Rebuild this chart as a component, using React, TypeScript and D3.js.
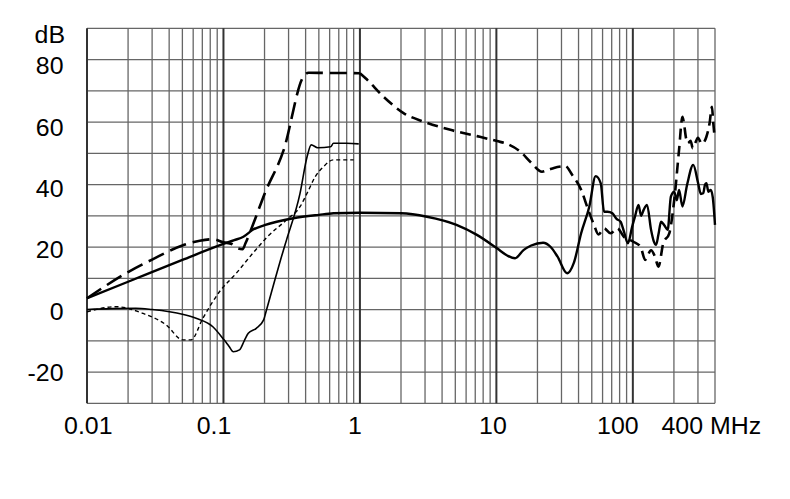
import React from "react";
import * as d3 from "d3";

const W = 790;
const H = 499;
const M = { left: 87, right: 715, top: 28.3, bottom: 403.3 };

const yTickValues = [-20, 0, 20, 40, 60, 80];
const yGridValues = [-30, -20, -10, 0, 10, 20, 30, 40, 50, 60, 70, 80, 90];
const xLabels = [
  { f: 0.01, text: "0.01", dx: 1.3 },
  { f: 0.1, text: "0.1", dx: -9.5 },
  { f: 1, text: "1", dx: -5 },
  { f: 10, text: "10", dx: -3.5 },
  { f: 100, text: "100", dx: -15 },
];
const decades = [0.01, 0.1, 1, 10, 100];

const thickSolid: [number, number][] = [
  [0.01, 3.6], [0.02, 8.9], [0.05, 15.9], [0.1, 21], [0.12, 22.2], [0.14, 23.3], [0.165, 25.6], [0.2, 27],
  [0.325, 29.2], [0.5, 30.3], [0.64, 30.8], [1, 31], [2, 30.8], [3.1, 29.7], [5.1, 27.1], [7.2, 23.9],
  [10.1, 19.6], [12, 17.3], [13.7, 16.4], [15.8, 19], [18, 20.5], [22, 21.4], [24.9, 20.1], [28, 17],
  [33, 11.6], [37, 15], [41.8, 24.4], [48, 33], [53.4, 42.7], [58.2, 40.4], [61.5, 31.3], [65.2, 31.3],
  [70.8, 30.8], [76, 29], [81.3, 28.1], [86, 25], [91.9, 21.2], [98.8, 26.5], [104, 30], [110, 33.5],
  [115, 30], [120, 31.9], [127, 33.5], [136, 25.5], [142, 22], [148, 20.7], [154, 24], [161, 28.1],
  [170, 27], [180, 25.5], [190, 36.1], [201, 37.7], [210, 35], [218, 38.3], [231, 33], [250, 40],
  [277, 46.3], [301, 40.4], [315, 37], [328, 37.2], [338, 40], [346, 40.4], [358, 37.7], [372, 38.3],
  [385, 36], [400, 27.1],
];

const longDashed: [number, number][] = [
  [0.01, 3.6], [0.02, 12], [0.03, 16], [0.05, 20.5], [0.067, 22], [0.084, 22.5], [0.1, 21.5], [0.115, 21],
  [0.127, 19.6], [0.138, 19.3], [0.145, 21.2], [0.166, 27.6], [0.2, 37], [0.276, 51], [0.385, 74.5],
  [0.42, 75.8], [0.6, 75.7], [0.8, 75.7], [1.0, 75.6], [1.1, 74], [1.49, 68.1], [2.1, 62.8], [2.94, 60.1],
  [4.6, 57.5], [7.2, 55.5], [10.1, 53.9], [12, 53], [15, 50.5], [18, 47], [21.6, 44.1], [24, 44.7],
  [26.4, 45.3], [30, 45.8], [32, 45.9], [35.9, 43.1], [41.8, 38.3], [46.7, 32.4], [52, 27], [56, 24],
  [61.5, 26], [68.8, 24.4], [77, 26], [86, 23.3], [101, 21.7], [114, 20.1], [123, 15.9], [136, 19],
  [145, 17], [154, 13.7], [167, 21.2], [185, 24.4], [201, 35], [218, 51], [231, 61.7], [237, 59.6],
  [245, 55], [253, 53.2], [265, 54], [275, 51.6], [286, 53.2], [300, 55], [320, 53], [346, 55.3],
  [365, 59.6], [380, 64.9], [388, 60], [395, 56.4],
];

const thinSolid: [number, number][] = [
  [0.01, 0], [0.015, 0.3], [0.0228, 0.4], [0.03, 0], [0.0402, -0.7], [0.05, -1.5], [0.063, -2.8],
  [0.0836, -5.5], [0.101, -9.7], [0.11, -11.8], [0.118, -13.5], [0.131, -12.9], [0.142, -10],
  [0.152, -7.6], [0.174, -6], [0.197, -3.3], [0.205, -0.7], [0.24, 10], [0.275, 19], [0.29, 22.3],
  [0.364, 37.2], [0.41, 48.9], [0.44, 52.7], [0.49, 51.8], [0.61, 52.1], [0.64, 53.2], [0.8, 53.2],
  [0.98, 53],
];

const thinDashed: [number, number][] = [
  [0.01, -0.7], [0.0163, 0.9], [0.0256, -1.2], [0.038, -4.9], [0.0503, -9.7], [0.0579, -9.7],
  [0.0706, -2.8], [0.0935, 5.7], [0.124, 11.6], [0.164, 18], [0.21, 23.3], [0.29, 28.7], [0.364, 32.9],
  [0.41, 37.2], [0.47, 42.5], [0.54, 45.7], [0.64, 47.9], [0.9, 47.9],
];

export default function App() {
  const x = d3.scaleLog().domain([0.01, 400]).range([M.left, M.right]);
  const y = d3.scaleLinear().domain([-30, 90]).range([M.bottom, M.top]);
  // tick labels sit on their own, slightly tighter spacing than the grid
  const yLabel = d3.scaleLinear().domain([-20, 80]).range([372.5, 66]);

  const minorX: number[] = [];
  for (const d of [0.01, 0.1, 1, 10]) {
    for (let k = 2; k <= 9; k++) minorX.push(+(k * d).toPrecision(3));
  }
  minorX.push(200, 300, 400);

  const line = d3
    .line<[number, number]>()
    .x((d) => x(d[0]))
    .y((d) => y(d[1]))
    .curve(d3.curveMonotoneX);

  const dashedLow = longDashed.filter((d) => d[0] <= 1.0);
  const dashedHigh = longDashed.filter((d) => d[0] >= 1.0);

  const font = "'Liberation Sans', Arial, sans-serif";
  const fs = 23.5;
  const sx = 1.06;
  const T = (tx: number, ty: number) => `translate(${tx},${ty}) scale(${sx},1)`;

  return (
    <svg
      width={W}
      height={H}
      style={{ position: "fixed", left: 0, top: 0, background: "#fff" }}
      fontFamily={font}
    >
      <rect width={W} height={H} fill="#fff" />
      {yGridValues.map((v) => (
        <line key={"h" + v} x1={M.left} x2={M.right} y1={y(v)} y2={y(v)} stroke="#666" strokeWidth={1.3} />
      ))}
      {minorX.map((f) => (
        <line key={"v" + f} x1={x(f)} x2={x(f)} y1={M.top} y2={M.bottom} stroke="#666" strokeWidth={1.3} />
      ))}
      {decades.map((f) => (
        <line key={"d" + f} x1={x(f)} x2={x(f)} y1={M.top} y2={M.bottom} stroke="#333" strokeWidth={2} />
      ))}

      <path d={line(thinDashed) ?? ""} fill="none" stroke="#000" strokeWidth={1.4} strokeDasharray="4,3" />
      <path d={line(thinSolid) ?? ""} fill="none" stroke="#000" strokeWidth={1.6} />
      <path d={line(dashedLow) ?? ""} fill="none" stroke="#000" strokeWidth={2.6} strokeDasharray="17,7" />
      <path d={line(dashedHigh) ?? ""} fill="none" stroke="#000" strokeWidth={2.6} strokeDasharray="11,6" />
      <path d={line(thickSolid) ?? ""} fill="none" stroke="#000" strokeWidth={2.4} />

      <text transform={T(65, 43.3)} fontSize={fs} textAnchor="end" fill="#000">dB</text>
      {yTickValues.map((v) => (
        <text key={"yl" + v} transform={T(63.5, yLabel(v) + 8.3)} fontSize={fs} textAnchor="end" fill="#000">
          {v}
        </text>
      ))}
      {xLabels.map((l) => (
        <text key={"xl" + l.text} transform={T(x(l.f) + l.dx, 433.5)} fontSize={fs} textAnchor="middle" fill="#000">
          {l.text}
        </text>
      ))}
      <text transform={T(661.5, 433.5)} fontSize={fs} fill="#000">400 MHz</text>
    </svg>
  );
}
